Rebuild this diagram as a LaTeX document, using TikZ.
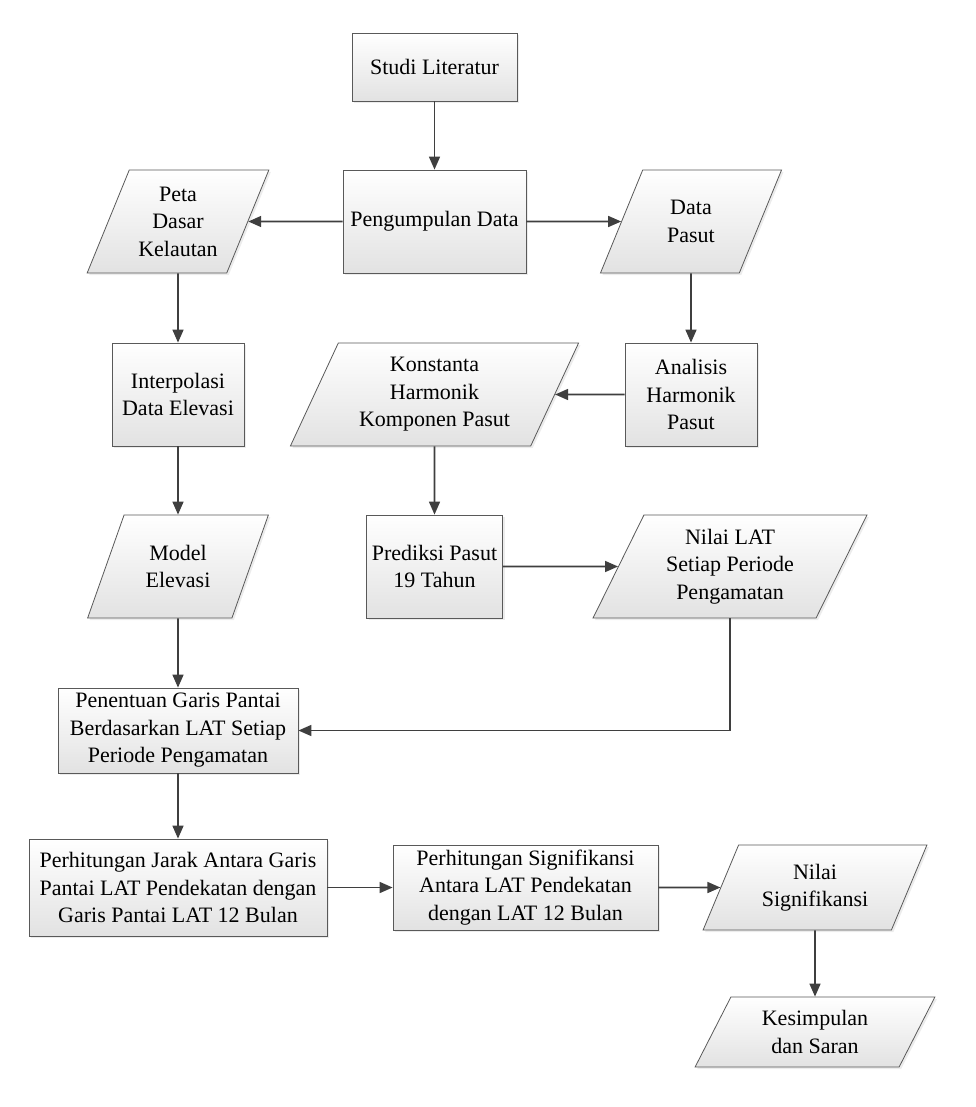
\documentclass[tikz,border=0pt]{standalone}
\usepackage{fontspec}
\setmainfont{Liberation Serif}
\newfontfamily\flowfont{Liberation Serif}
\usetikzlibrary{shapes.geometric,arrows.meta,shadows}
\definecolor{boxline}{HTML}{595959}
\definecolor{flowline}{HTML}{3F3F3F}
\definecolor{boxshade}{HTML}{E2E2E2}

\tikzset{
  base/.style={draw=boxline, line width=0.8pt, top color=white, bottom color=boxshade,
    drop shadow={shadow xshift=2pt, shadow yshift=-2pt, opacity=0.15},
    align=center, font=\flowfont\fontsize{22}{27.5}\selectfont, inner sep=3pt},
  process/.style={base, rectangle},
  data/.style={base, trapezium, trapezium left angle=64, trapezium right angle=116,
    trapezium stretches=true},
  flow/.style={draw=flowline, line width=1.6pt, -{Triangle[length=13pt,width=11pt]}}
}

\begin{document}
\begin{tikzpicture}[x=1pt,y=-1pt]
    \useasboundingbox (0,0) rectangle (975,1107);
    % top row
    \node[process, minimum width=165pt, minimum height=68pt] (studi) at (434.5,67) {Studi Literatur};
    \node[process, minimum width=183pt, minimum height=103pt] (kumpul) at (434.5,221.5) {Pengumpulan Data};
    \node[data, minimum width=182pt, minimum height=103pt] (peta) at (178,221.5) {Peta\\Dasar\\Kelautan};
    \node[data, minimum width=182pt, minimum height=103pt] (pasut) at (691,221.5) {Data\\Pasut};
    % second row
    \node[process, minimum width=132pt, minimum height=103pt] (interp) at (178,394.5) {Interpolasi\\Data Elevasi};
    \node[data, minimum width=289pt, minimum height=103pt] (konst) at (434.5,394.5) {Konstanta\\Harmonik\\Komponen Pasut};
    \node[process, minimum width=132pt, minimum height=103pt] (analisis) at (691,394.5) {Analisis\\Harmonik\\Pasut};
    % third row
    \node[data, minimum width=181pt, minimum height=103pt] (model) at (178,566.5) {Model\\Elevasi};
    \node[process, minimum width=136pt, minimum height=103pt] (prediksi) at (434.5,566.5) {Prediksi Pasut\\19 Tahun};
    \node[data, minimum width=274pt, minimum height=103pt] (nlat) at (730,566.5) {Nilai LAT\\Setiap Periode\\Pengamatan};
    % lower part
    \node[process, minimum width=240pt, minimum height=85pt] (garis) at (178,730.5) {Penentuan Garis Pantai\\Berdasarkan LAT Setiap\\Periode Pengamatan};
    \node[process, minimum width=298pt, minimum height=97pt] (jarak) at (178,887.5) {Perhitungan Jarak Antara Garis\\Pantai LAT Pendekatan dengan\\Garis Pantai LAT 12 Bulan};
    \node[process, minimum width=265pt, minimum height=85pt] (signif) at (525.5,887.5) {Perhitungan Signifikansi\\Antara LAT Pendekatan\\dengan LAT 12 Bulan};
    \node[data, minimum width=224pt, minimum height=85pt] (nsig) at (815,887.5) {Nilai\\Signifikansi};
    \node[data, minimum width=240pt, minimum height=70pt] (simpul) at (815,1032) {Kesimpulan\\dan Saran};
    % connectors
    \draw[flow] (studi) -- (kumpul);
    \draw[flow] (kumpul) -- (peta);
    \draw[flow] (kumpul) -- (pasut);
    \draw[flow] (peta) -- (interp);
    \draw[flow] (pasut) -- (analisis);
    \draw[flow] (analisis) -- (konst);
    \draw[flow] (interp) -- (model);
    \draw[flow] (konst) -- (prediksi);
    \draw[flow] (prediksi) -- (nlat);
    \draw[flow] (model) -- (garis);
    \draw[flow] (nlat.south) |- (garis.east);
    \draw[flow] (garis) -- (jarak);
    \draw[flow] (jarak) -- (signif);
    \draw[flow] (signif) -- (nsig);
    \draw[flow] (nsig) -- (simpul);
\end{tikzpicture}
\end{document}
